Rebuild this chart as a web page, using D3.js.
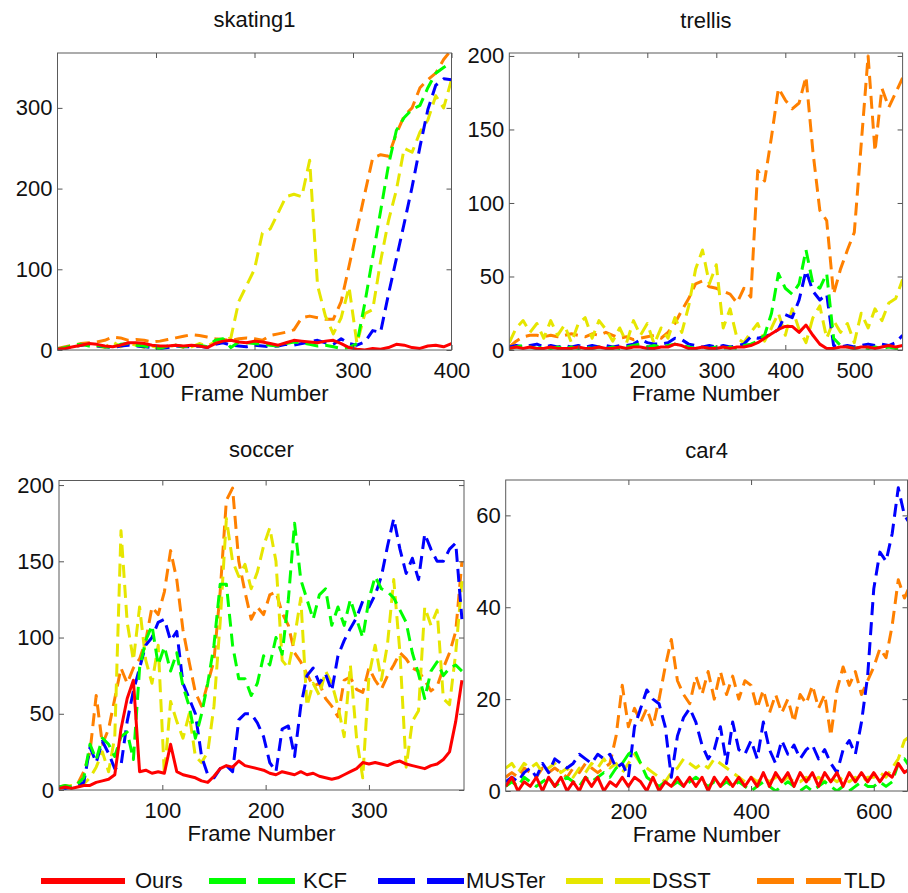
<!DOCTYPE html>
<html>
<head>
<meta charset="utf-8">
<script src="https://cdn.jsdelivr.net/npm/d3@7"></script>
<style>
    body { margin: 0; background: #fff; }
    svg { font-family: "Liberation Sans", Arial, Helvetica, sans-serif; }
    .axis text { font-size: 22px; fill: #111; }
    .axis line { stroke: #555; }
    .panel-title, .axis-label, .legend-text { font-size: 22px; fill: #111; }
</style>
</head>
<body>
<svg id="chart" width="908" height="893"></svg>
<script>

// center location error per frame, sampled every `step` frames
let methods = ["Ours", "KCF", "MUSTer", "DSST", "TLD"];
let methodColors = ["#ff0000", "#00ff00", "#0000ff", "#e6e600", "#ff8000"];

let skatingStep = 8;
let skatingOurs = [1,2,4,6,8,7,5,4,6,9, 9,8,6,5,5,6,5,6,5,3, 8,11,12,10,9,11,10,8,6,9, 12,11,10,9,11,12,8,3,1,0, 2,1,3,7,6,3,2,5,6,4, 8];
let skatingKCF = [1,3,6,7,5,6,4,3,7,8, 6,5,3,2,5,6,4,5,6,4, 12,14,3,10,9,8,7,6,5,8, 10,9,7,5,6,4,2,3,8,58, 115,172,229,272,288,298,303,325,343,350, 356];
let skatingMUSTer = [1,2,4,6,7,5,4,3,5,6, 5,4,3,2,3,5,4,4,5,3, 7,9,6,5,4,6,5,4,5,7, 6,8,10,12,9,7,14,8,6,10, 24,22,69,113,157,202,252,298,328,336, 335];
let skatingDSST = [0,2,4,6,8,5,3,10,4,8, 6,3,5,2,4,6,3,4,8,5, 10,12,15,60,80,100,145,150,170,190, 193,190,235,80,42,20,40,78,8,45, 50,110,160,198,250,245,270,285,315,300, 335];
let skatingTLD = [2,4,6,8,9,10,12,16,15,12, 13,12,10,11,13,15,17,19,18,16, 14,13,12,14,15,14,12,18,20,22, 25,40,42,40,38,38,60,104,149,194, 238,242,240,268,290,300,325,335,343,360, 372];

let trellisStep = 10;
let trellisOurs = [1,2,1,2,1,1,2,1,1,1, 2,1,1,2,1,1,2,1,2,2, 1,1,2,2,4,3,1,1,2,1, 1,2,1,2,2,3,5,8,11,14, 16,16,12,17,10,4,1,1,2,2, 1,2,2,1,2,3,2,3];
let trellisKCF = [1,2,3,2,1,2,1,2,1,2, 1,2,1,2,1,2,1,2,3,4, 2,3,2,3,4,3,2,1,2,1, 2,1,2,1,3,4,6,10,25,52, 42,38,45,68,45,42,52,8,3,2, 1,2,1,2,1,2,1,0];
let trellisMUSTer = [2,3,2,3,4,2,3,2,3,2, 3,2,3,2,3,2,3,3,4,7, 5,4,4,5,8,7,4,3,2,3, 2,3,2,3,4,9,8,9,11,14, 24,22,34,54,40,34,38,3,2,3, 2,3,4,3,4,3,5,10];
let trellisDSST = [5,15,20,12,18,8,20,10,17,5, 18,22,8,20,14,6,15,5,20,10, 18,4,15,8,22,12,30,55,68,45, 58,15,28,8,5,12,18,6,15,25, 10,28,14,5,22,30,8,20,12,18, 5,25,15,28,20,32,35,48];
let trellisTLD = [2,6,9,10,10,9,10,9,10,11, 10,9,11,10,12,10,8,9,7,8, 9,10,8,12,18,27,35,45,47,43, 42,40,38,32,42,36,122,115,145,178, 170,164,168,186,135,95,88,38,55,68, 80,140,200,135,178,165,175,185];

let soccerStep = 6;
let soccerOurs = [1,2,1,2,3,3,5,6,7,10, 40,60,72,12,13,11,12,11,30,12, 10,9,8,6,5,9,14,16,15,19, 16,15,14,13,11,10,12,11,10,12, 10,11,9,8,7,8,10,12,14,18, 17,18,17,16,18,19,17,16,15,14, 16,17,20,25,45,72];
let soccerKCF = [2,3,2,4,8,30,20,34,30,22, 35,38,20,80,98,108,82,94,78,90, 68,55,34,50,70,95,135,135,95,73, 73,62,70,88,82,100,89,125,175,138, 125,112,128,132,108,120,108,125,112,100, 125,140,132,130,126,118,110,90,76,60, 78,84,75,80,82,78];
let soccerMUSTer = [2,1,2,3,5,28,18,32,24,14, 16,45,65,80,95,100,110,112,98,104, 70,60,50,22,10,8,14,16,12,46, 50,50,44,35,18,12,40,42,22,55, 75,80,70,76,65,88,98,106,113,124, 120,128,140,160,178,158,142,152,138,168, 158,150,150,158,162,112];
let soccerDSST = [1,2,3,2,4,8,15,25,12,35, 170,110,85,120,85,70,95,10,58,45, 34,50,22,18,25,55,110,178,150,140, 148,132,143,160,172,150,85,80,100,126, 55,70,62,78,70,55,35,82,34,8, 75,95,72,96,138,90,15,45,52,120, 108,118,60,56,90,137];
let soccerTLD = [2,3,2,4,12,25,62,30,40,60, 80,70,80,86,98,120,115,130,157,138, 105,84,64,55,70,85,130,190,198,150, 130,112,120,115,128,130,116,108,90,84, 76,68,70,60,55,48,72,74,66,64, 80,72,66,75,82,90,86,80,78,72, 65,68,80,90,104,150];

let car4Step = 10;
let car4Ours = [1,3,0,2,1,3,0,3,1,3, 0,2,0,3,1,3,0,2,1,3, 1,3,2,0,3,0,2,1,3,1, 3,1,3,0,3,1,3,1,3,1, 3,1,4,1,4,2,4,1,4,2, 4,1,4,2,4,1,4,2,4,2, 4,2,4,3,6,4,5];
let car4KCF = [1,2,1,3,2,1,2,3,1,2, 3,2,1,3,2,3,4,3,5,6, 8,9,6,3,2,1,2,1,2,1, 2,3,2,1,2,1,2,1,2,1, 0,1,2,1,0,1,2,1,0,1, 0,1,2,1,0,1,0,1,2,1, 1,2,1,2,6,7,5];
let car4MUSTer = [2,3,2,4,5,3,6,4,7,6, 5,6,8,7,6,8,7,8,5,6, 3,14,18,22,20,19,14,3,12,16, 18,15,10,7,9,14,6,15,9,8, 11,7,15,9,6,11,8,10,7,9, 10,7,9,6,4,9,11,8,15,25, 44,52,50,56,66,60,58];
let car4DSST = [5,6,4,6,5,6,4,5,6,4, 5,3,5,4,6,5,7,5,6,4, 6,8,6,5,4,3,2,4,5,7, 6,5,6,5,7,6,5,4,3,2, 3,2,3,2,3,2,3,2,2,3, 2,3,2,3,2,3,2,3,2,3, 3,4,3,5,7,11,12];
let car4TLD = [3,4,3,5,4,3,5,4,5,4, 3,5,4,6,5,4,5,6,12,23, 14,18,15,18,14,20,27,33,24,21, 19,25,21,26,20,26,21,25,20,24, 23,18,22,17,21,17,20,15,21,19, 23,18,21,12,22,27,23,26,21,24, 27,31,29,36,46,42,45];

let skatingXTicks = [100, 200, 300, 400];
let skatingYTicks = [0, 100, 200, 300];
let trellisXTicks = [100, 200, 300, 400, 500];
let trellisYTicks = [0, 50, 100, 150, 200];
let soccerXTicks = [100, 200, 300];
let soccerYTicks = [0, 50, 100, 150, 200];
let car4XTicks = [200, 400, 600];
let car4YTicks = [0, 20, 40, 60];


/** One error-vs-frame plot in MATLAB style. */
class ErrorPanel {

    constructor(svg, title, step, series, xMax, yMax, xTicks, yTicks, box) {
        this.svg = svg;
        this.title = title;
        this.step = step;
        this.series = series;
        this.xMax = xMax;
        this.yMax = yMax;
        this.xTicks = xTicks;
        this.yTicks = yTicks;
        this.box = box;
        this.draw();
    }

    draw() {
        let b = this.box;
        let x = d3.scaleLinear().domain([0, this.xMax]).range([b.left, b.right]);
        let y = d3.scaleLinear().domain([0, this.yMax]).range([b.bottom, b.top]);
        let g = this.svg.append("g").attr("class", "panel-" + this.title);
        let clipId = "clip-" + this.title;

        g.append("clipPath").attr("id", clipId).append("rect")
            .attr("x", b.left).attr("y", b.top).attr("width", b.right - b.left).attr("height", b.bottom - b.top);

        let line = d3.line().x((d, i) => x(i * this.step)).y(d => y(d));

        // reversed so that Ours is drawn last, on top
        let order = [4, 3, 2, 1, 0];
        g.append("g").attr("clip-path", "url(#" + clipId + ")")
            .selectAll("path").data(order).join("path")
            .attr("d", k => line(this.series[k]))
            .attr("fill", "none")
            .attr("stroke", k => methodColors[k])
            .attr("stroke-width", 3)
            .attr("stroke-linejoin", "round")
            .attr("stroke-dasharray", k => k === 0 ? null : "13,7");

        g.append("g").attr("class", "axis").attr("transform", "translate(0," + b.bottom + ")")
            .call(d3.axisBottom(x).tickValues(this.xTicks).tickSize(-5).tickPadding(12));
        g.append("g").attr("class", "axis").attr("transform", "translate(0," + b.top + ")")
            .call(d3.axisTop(x).tickValues(this.xTicks).tickSize(-5).tickFormat(""));
        g.append("g").attr("class", "axis").attr("transform", "translate(" + b.left + ",0)")
            .call(d3.axisLeft(y).tickValues(this.yTicks).tickSize(-5).tickPadding(5));
        g.append("g").attr("class", "axis").attr("transform", "translate(" + b.right + ",0)")
            .call(d3.axisRight(y).tickValues(this.yTicks).tickSize(-5).tickFormat(""));
        g.selectAll(".axis .domain").remove();
        g.selectAll(".axis text").attr("font-family", null).attr("font-size", null);

        g.append("rect").attr("x", b.left).attr("y", b.top)
            .attr("width", b.right - b.left).attr("height", b.bottom - b.top)
            .attr("fill", "none").attr("stroke", "#5a5a5a").attr("stroke-width", 1);

        g.append("text").classed("panel-title", true)
            .attr("x", (b.left + b.right) / 2).attr("y", b.titleY)
            .attr("text-anchor", "middle").text(this.title);
        g.append("text").classed("axis-label", true)
            .attr("x", (b.left + b.right) / 2).attr("y", b.bottom + 51)
            .attr("text-anchor", "middle").text("Frame Number");
    }
}

let svg = d3.select("#chart");

new ErrorPanel(svg, "skating1", skatingStep,
    [skatingOurs, skatingKCF, skatingMUSTer, skatingDSST, skatingTLD],
    400, 368, skatingXTicks, skatingYTicks,
    {left: 57.5, right: 451.5, top: 53, bottom: 350, titleY: 27});

new ErrorPanel(svg, "trellis", trellisStep,
    [trellisOurs, trellisKCF, trellisMUSTer, trellisDSST, trellisTLD],
    570, 202, trellisXTicks, trellisYTicks,
    {left: 509.3, right: 902.6, top: 53, bottom: 350, titleY: 28});

new ErrorPanel(svg, "soccer", soccerStep,
    [soccerOurs, soccerKCF, soccerMUSTer, soccerDSST, soccerTLD],
    392, 203, soccerXTicks, soccerYTicks,
    {left: 59, right: 464, top: 480.5, bottom: 790, titleY: 457});

new ErrorPanel(svg, "car4", car4Step,
    [car4Ours, car4KCF, car4MUSTer, car4DSST, car4TLD],
    655, 67.7, car4XTicks, car4YTicks,
    {left: 505.7, right: 907.5, top: 480, bottom: 791, titleY: 458});

// legend along the bottom
let legendPos = [[41, 125, 135], [209, 300, 303], [378, 464, 466], [566, 650, 652], [757, 841, 844]];
let legend = svg.append("g").attr("class", "legend");
legend.selectAll("line").data(methods).join("line")
    .attr("x1", (d, i) => legendPos[i][0]).attr("x2", (d, i) => legendPos[i][1])
    .attr("y1", 881).attr("y2", 881)
    .attr("stroke", (d, i) => methodColors[i]).attr("stroke-width", 6)
    .attr("stroke-dasharray", (d, i) => i === 0 ? null : "37,12");
legend.selectAll("text").data(methods).join("text").classed("legend-text", true)
    .attr("x", (d, i) => legendPos[i][2]).attr("y", 888)
    .text(d => d);

</script>
</body>
</html>
